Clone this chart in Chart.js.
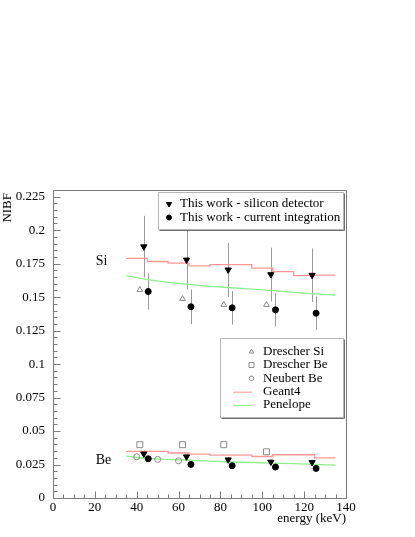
<!DOCTYPE html>
<html>
<head>
<meta charset="utf-8">
<script src="https://cdn.jsdelivr.net/npm/chart.js@4/dist/chart.umd.min.js"></script>
<style>
  html, body { margin: 0; padding: 0; background: #fff; }
</style>
</head>
<body>
<canvas id="chart" width="415" height="537"></canvas>
<script>
// measured values, energies in keV
var siDetE = [43.4, 63.8, 83.7, 104.1, 123.8];
var siDetSi = [0.1877, 0.1778, 0.1704, 0.1669, 0.1664];
var siDetSiErr = [0.023, 0.022, 0.020, 0.020, 0.020];
var siDetBe = [0.0330, 0.0308, 0.0286, 0.0269, 0.0266];
var siDetBeErr = [0.0025, 0.0022, 0.0020, 0.0018, 0.0018];

var curIntE = [45.5, 65.9, 85.6, 106.3, 125.7];
var curIntSi = [0.1542, 0.1428, 0.1420, 0.1405, 0.1380];
var curIntSiErr = [0.0135, 0.013, 0.0125, 0.0125, 0.0125];
var curIntBe = [0.0293, 0.0251, 0.0241, 0.0231, 0.0221];
var curIntBeErr = [0.0015, 0.0013, 0.0012, 0.0012, 0.0011];

var drescherE = [41.5, 61.9, 81.6, 102.0];
var drescherSi = [0.1555, 0.1487, 0.1443, 0.1443];
var drescherBe = [0.0398, 0.0398, 0.0398, 0.0345];

var neubertE = [40, 50, 60];
var neubertBe = [0.0308, 0.0288, 0.0278];

// simulations, one value per 10 keV bin
var binEdges = [35, 45, 55, 65, 75, 85, 95, 105, 115, 125, 135];
var geant4Si = [0.1790, 0.1766, 0.1754, 0.1734, 0.1743, 0.1743, 0.1716, 0.1690, 0.1661, 0.1665];
var geant4Be = [0.0348, 0.0348, 0.0336, 0.0328, 0.0320, 0.0320, 0.0310, 0.0323, 0.0323, 0.0300];
var penelopeSi = [0.1660, 0.1630, 0.1610, 0.1595, 0.1580, 0.1570, 0.1560, 0.1548, 0.1535, 0.1525, 0.1515];
var penelopeBe = [0.0313, 0.0295, 0.0288, 0.0282, 0.0276, 0.0269, 0.0265, 0.0261, 0.0256, 0.0251, 0.0246];

var xTickValues = [0, 20, 40, 60, 80, 100, 120, 140];
var yTickValues = [0, 0.025, 0.05, 0.075, 0.1, 0.125, 0.15, 0.175, 0.2, 0.225];
var yTickLabels = ['0', '0.025', '0.05', '0.075', '0.1', '0.125', '0.15', '0.175', '0.2', '0.225'];

var FONT = 'Liberation Serif';
var GEANT_COLOR = 'rgb(255,150,150)';
var PEN_COLOR = 'rgb(140,240,140)';
var ERR_COLOR = '#9a9a9a';

function points(xs, ys, errs) {
  return xs.map(function(x, i) {
    var p = { x: x, y: ys[i] };
    if (errs) p.err = errs[i];
    return p;
  });
}

function histo(values) {
  var pts = values.map(function(v, i) { return { x: binEdges[i], y: v }; });
  pts.push({ x: binEdges[binEdges.length - 1], y: values[values.length - 1] });
  return pts;
}

function markerSet(data, style, opts) {
  return Object.assign({
    data: data,
    showLine: false,
    pointStyle: style,
    pointRadius: 3,
    pointBorderWidth: 1,
    pointBackgroundColor: '#000',
    pointBorderColor: '#000'
  }, opts || {});
}

var openGray = { pointBackgroundColor: 'rgba(0,0,0,0)', pointBorderColor: '#8a8a8a' };

var datasets = [
  markerSet(points(siDetE, siDetSi, siDetSiErr), 'triangle', { pointRadius: 3.6, pointRotation: 180 }),
  markerSet(points(siDetE, siDetBe, siDetBeErr), 'triangle', { pointRadius: 3.6, pointRotation: 180 }),
  markerSet(points(curIntE, curIntSi, curIntSiErr), 'circle', { pointRadius: 3 }),
  markerSet(points(curIntE, curIntBe, curIntBeErr), 'circle', { pointRadius: 3 }),
  markerSet(points(drescherE, drescherSi), 'triangle', Object.assign({ pointRadius: 3.3 }, openGray)),
  markerSet(points(drescherE, drescherBe), 'rect', Object.assign({ pointRadius: 4.2 }, openGray)),
  markerSet(points(neubertE, neubertBe), 'circle', Object.assign({ pointRadius: 3 }, openGray)),
  { data: histo(geant4Si), showLine: true, stepped: 'before', borderColor: GEANT_COLOR, borderWidth: 1.3, pointRadius: 0 },
  { data: histo(geant4Be), showLine: true, stepped: 'before', borderColor: GEANT_COLOR, borderWidth: 1.3, pointRadius: 0 },
  { data: points(binEdges, penelopeSi), showLine: true, borderColor: PEN_COLOR, borderWidth: 1.3, pointRadius: 0 },
  { data: points(binEdges, penelopeBe), showLine: true, borderColor: PEN_COLOR, borderWidth: 1.3, pointRadius: 0 }
];

// vertical error bars, drawn under the markers
var errorBars = {
  id: 'errorBars',
  beforeDatasetsDraw: function(chart) {
    var ctx = chart.ctx, xs = chart.scales.x, ys = chart.scales.y;
    ctx.save();
    ctx.strokeStyle = ERR_COLOR;
    ctx.lineWidth = 1;
    chart.data.datasets.forEach(function(ds) {
      ds.data.forEach(function(p) {
        if (p.err === undefined) return;
        var px = Math.round(xs.getPixelForValue(p.x)) + 0.5;
        ctx.beginPath();
        ctx.moveTo(px, ys.getPixelForValue(p.y + p.err));
        ctx.lineTo(px, ys.getPixelForValue(p.y - p.err));
        ctx.stroke();
      });
    });
    ctx.restore();
  }
};

function drawMarker(ctx, style, r, rot, x, y, fill, stroke) {
  ctx.fillStyle = fill;
  ctx.strokeStyle = stroke;
  ctx.lineWidth = 1;
  Chart.helpers.drawPoint(ctx, { pointStyle: style, radius: r, rotation: rot, borderWidth: 1 }, x, y);
}

function legendBox(ctx, x0, y0, x1, y1) {
  ctx.fillStyle = '#fff';
  ctx.fillRect(x0, y0, x1 - x0, y1 - y0);
  ctx.strokeStyle = '#707070';
  ctx.lineWidth = 1;
  ctx.beginPath();
  ctx.moveTo(x0 + 1.5, y1 + 0.5); ctx.lineTo(x1 + 0.5, y1 + 0.5); ctx.lineTo(x1 + 0.5, y0 + 1.5);
  ctx.stroke();
  ctx.strokeStyle = '#b5b5b5';
  ctx.strokeRect(x0 + 0.5, y0 + 0.5, x1 - x0 - 1, y1 - y0 - 1);
}

// frame, ticks, labels and the two legends
var decorations = {
  id: 'decorations',
  afterDraw: function(chart) {
    var ctx = chart.ctx, a = chart.chartArea, xs = chart.scales.x, ys = chart.scales.y;
    var L = Math.round(a.left) + 0.5, R = Math.round(a.right) + 0.5;
    var T = Math.round(a.top) + 0.5, B = Math.round(a.bottom) + 0.5;
    ctx.save();
    ctx.strokeStyle = '#7a7a7a';
    ctx.lineWidth = 1;
    ctx.strokeRect(L, T, R - L, B - T);

    ctx.beginPath();
    for (var i = 0; i <= 46; i++) {
      var py = Math.round(ys.getPixelForValue(i * 0.005)) + 0.5;
      ctx.moveTo(L, py);
      ctx.lineTo(L + (i % 5 === 0 ? 7 : 4), py);
    }
    for (var j = 0; j <= 28; j++) {
      var px = Math.round(xs.getPixelForValue(j * 5)) + 0.5;
      ctx.moveTo(px, B);
      ctx.lineTo(px, B - (j % 4 === 0 ? 7 : 4));
    }
    ctx.stroke();

    ctx.fillStyle = '#000';
    ctx.font = '14px "' + FONT + '"';
    ctx.textBaseline = 'middle';
    ctx.textAlign = 'left';
    ctx.fillText('Si', xs.getPixelForValue(20.4), ys.getPixelForValue(0.1765));
    ctx.fillText('Be', xs.getPixelForValue(20.4), ys.getPixelForValue(0.0285));

    ctx.font = '13px "' + FONT + '"';
    ctx.textAlign = 'right';
    ctx.fillText('energy (keV)', 346, 519);

    ctx.save();
    ctx.translate(8, 193);
    ctx.rotate(-Math.PI / 2);
    ctx.textAlign = 'right';
    ctx.fillText('NIBF', 0, 0);
    ctx.restore();

    // legend 1
    legendBox(ctx, 158, 192, 344, 230);
    drawMarker(ctx, 'triangle', 3, 180, 169, 204, '#000', '#000');
    drawMarker(ctx, 'circle', 2.5, 0, 169, 217.5, '#000', '#000');
    ctx.fillStyle = '#000';
    ctx.textAlign = 'left';
    ctx.fillText('This work - silicon detector', 180, 204);
    ctx.fillText('This work - current integration', 180, 217.5);

    // legend 2
    legendBox(ctx, 220, 338, 344, 418);
    var rows = [351.7, 365, 378.3, 391.7, 405];
    drawMarker(ctx, 'triangle', 2.6, 0, 251.5, rows[0], 'rgba(0,0,0,0)', '#8a8a8a');
    drawMarker(ctx, 'rect', 3.5, 0, 251.5, rows[1], 'rgba(0,0,0,0)', '#8a8a8a');
    drawMarker(ctx, 'circle', 2.3, 0, 251.5, rows[2], 'rgba(0,0,0,0)', '#8a8a8a');
    ctx.lineWidth = 1;
    ctx.strokeStyle = GEANT_COLOR;
    ctx.beginPath(); ctx.moveTo(233, rows[3] + 0.5); ctx.lineTo(252, rows[3] + 0.5); ctx.stroke();
    ctx.strokeStyle = PEN_COLOR;
    ctx.beginPath(); ctx.moveTo(233, rows[4] + 0.5); ctx.lineTo(252, rows[4] + 0.5); ctx.stroke();
    ctx.fillStyle = '#000';
    ['Drescher Si', 'Drescher Be', 'Neubert Be', 'Geant4', 'Penelope'].forEach(function(t, k) {
      ctx.fillText(t, 263, rows[k]);
    });
    ctx.restore();
  }
};

new Chart(document.getElementById('chart'), {
  type: 'scatter',
  data: { datasets: datasets },
  options: {
    responsive: false,
    animation: false,
    devicePixelRatio: 1,
    layout: { padding: { top: 190, right: 69, left: 0, bottom: 0 } },
    plugins: { legend: { display: false }, tooltip: { enabled: false } },
    scales: {
      x: {
        type: 'linear',
        min: 0,
        max: 140,
        grid: { display: false, drawTicks: false },
        border: { display: false },
        afterBuildTicks: function(scale) {
          scale.ticks = xTickValues.map(function(v) { return { value: v }; });
        },
        afterFit: function(scale) { scale.height = 39; },
        ticks: {
          padding: 2,
          maxRotation: 0,
          color: '#000',
          font: { family: FONT, size: 13 },
          callback: function(v) { return String(v); }
        }
      },
      y: {
        type: 'linear',
        min: 0,
        max: 0.23,
        grid: { display: false, drawTicks: false },
        border: { display: false },
        afterBuildTicks: function(scale) {
          scale.ticks = yTickValues.map(function(v) { return { value: v }; });
        },
        afterFit: function(scale) { scale.width = 53; },
        ticks: {
          padding: 8,
          color: '#000',
          font: { family: FONT, size: 13 },
          callback: function(v, i) { return yTickLabels[i]; }
        }
      }
    }
  },
  plugins: [errorBars, decorations]
});
</script>
</body>
</html>
